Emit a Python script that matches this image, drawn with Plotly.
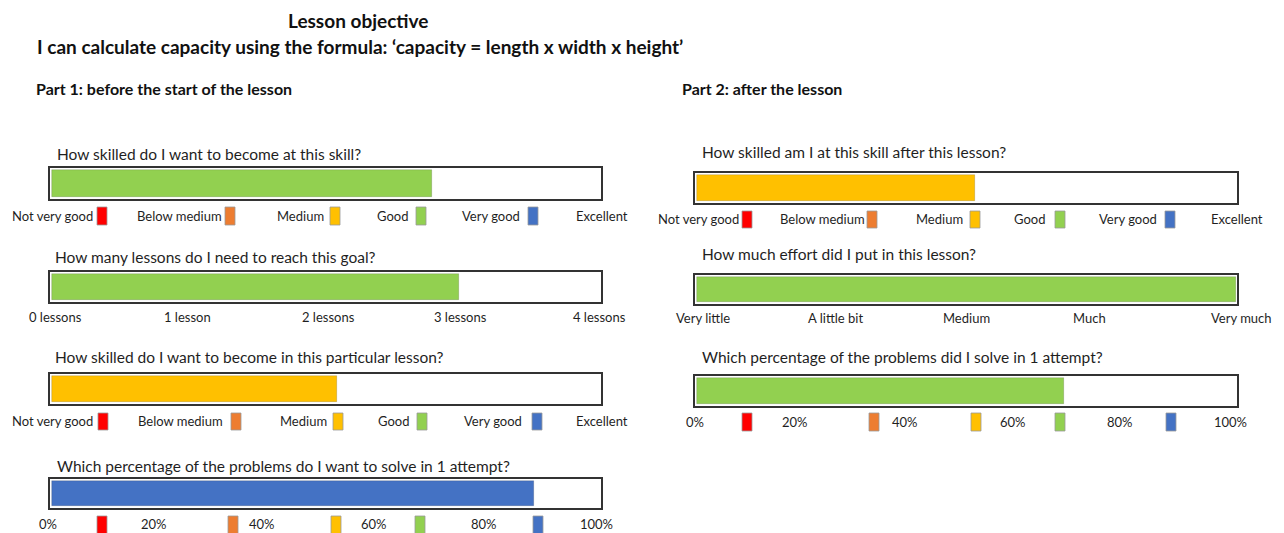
import plotly.graph_objects as go

# ---------------- data ----------------
title_lines = ["Lesson objective",
               "I can calculate capacity using the formula: \u2018capacity = length x width x height\u2019"]
part_titles = ["Part 1: before the start of the lesson", "Part 2: after the lesson"]

questions = [
    "How skilled do I want to become at this skill?",
    "How many lessons do I need to reach this goal?",
    "How skilled do I want to become in this particular lesson?",
    "Which percentage of the problems do I want to solve in 1 attempt?",
    "How skilled am I at this skill after this lesson?",
    "How much effort did I put in this lesson?",
    "Which percentage of the problems did I solve in 1 attempt?",
]
skill_labels = ["Not very good", "Below medium", "Medium", "Good", "Very good", "Excellent"]
lesson_labels = ["0 lessons", "1 lesson", "2 lessons", "3 lessons", "4 lessons"]
effort_labels = ["Very little", "A little bit", "Medium", "Much", "Very much"]
percent_labels = ["0%", "20%", "40%", "60%", "80%", "100%"]

# answers, in each scale's own units
answer_values = [3.47, 2.97, 2.6, 88, 2.58, 4.0, 68]
scale_max = [5, 4, 5, 100, 5, 4, 100]
bar_colors = ["#92D050", "#92D050", "#FFC000", "#4472C4", "#FFC000", "#92D050", "#92D050"]
level_colors = ["#FF0000", "#ED7D31", "#FFC000", "#92D050", "#4472C4"]

# ---------------- layout (pixels in the 1284x533 page) ----------------
OFF = 8                      # default page body margin
W, H = 1284 - OFF, 533 - OFF
def px(x): return (x - OFF) / W
def py(y): return 1 - (y - OFF) / H

FONT = "Lato, 'Liberation Sans', sans-serif"
TXT = "#1f1f1f"

boxes = [
    (50, 601, 168, 199),
    (50, 601, 272, 302),
    (50, 601, 374, 404),
    (50, 601, 479, 508),
    (695, 1237, 173, 203),
    (695, 1237, 275, 304),
    (695, 1237, 376, 406),
]
question_pos = [(55, 154), (53, 257), (53, 357), (55, 466), (700, 152), (700, 254), (700, 357)]

label_sets = [
    (skill_labels, [10, 135, 275, 375, 460, 574], 216, [97, 225, 330, 416, 528], (207, 225)),
    (lesson_labels, [27, 162, 300, 432, 571], 317, None, None),
    (skill_labels, [10, 136, 278, 376, 462, 574], 421, [98, 231, 333, 417, 532], (413, 430)),
    (percent_labels, [37, 139, 247, 359, 469, 578], 524, [97, 228, 331, 415, 533], (516, 534)),
    (skill_labels, [656, 778, 914, 1012, 1097, 1209], 219, [742, 867, 970, 1055, 1165], (211, 228)),
    (effort_labels, [674, 806, 941, 1071, 1209], 318, None, None),
    (percent_labels, [684, 780, 890, 998, 1105, 1212], 422, [742, 869, 971, 1055, 1166], (413, 431)),
]

fig = go.Figure()
layout = dict(
    width=W, height=H,
    margin=dict(l=0, r=0, t=0, b=0),
    paper_bgcolor="white", plot_bgcolor="white",
    showlegend=False, bargap=0,
    font=dict(family=FONT, color=TXT),
)

annotations = []
shapes = []

for i, (x0, x1, y0, y1) in enumerate(boxes):
    n = i + 1
    xa = "x" if n == 1 else f"x{n}"
    ya = "y" if n == 1 else f"y{n}"
    pad = scale_max[i] * 2.5 / (x1 - x0)
    fig.add_trace(go.Bar(
        x=[answer_values[i]], y=[0], base=0, orientation="h", width=0.84,
        marker=dict(color=bar_colors[i], line=dict(width=0.6, color="rgba(0,0,0,0.25)")),
        xaxis=xa, yaxis=ya, hoverinfo="skip",
    ))
    layout["xaxis" if n == 1 else f"xaxis{n}"] = dict(
        domain=[px(x0), px(x1)], range=[-pad, scale_max[i] + pad * 0.4],
        anchor=ya, showline=True, mirror=True, linewidth=2, linecolor="#333333",
        showticklabels=False, ticks="", showgrid=False, zeroline=False, fixedrange=True,
    )
    layout["yaxis" if n == 1 else f"yaxis{n}"] = dict(
        domain=[py(y1), py(y0)], range=[-0.5, 0.5],
        anchor=xa, showline=True, mirror=True, linewidth=2, linecolor="#333333",
        showticklabels=False, ticks="", showgrid=False, zeroline=False, fixedrange=True,
    )
    qx, qy = question_pos[i]
    annotations.append(dict(text=questions[i], x=px(qx), y=py(qy), xref="paper", yref="paper",
                            xanchor="left", yanchor="middle", showarrow=False,
                            font=dict(size=15.5, family=FONT, color=TXT)))
    labels, lx, ly, sx, sy = label_sets[i]
    for j, lab in enumerate(labels):
        annotations.append(dict(text=lab, x=px(lx[j]), y=py(ly), xref="paper", yref="paper",
                                xanchor="left", yanchor="middle", showarrow=False,
                                font=dict(size=13, family=FONT, color=TXT)))
    if sx is not None:
        for j, sxl in enumerate(sx):
            shapes.append(dict(type="rect", xref="paper", yref="paper",
                               x0=px(sxl), x1=px(sxl + 10), y0=py(sy[1]), y1=py(sy[0]),
                               fillcolor=level_colors[j], line=dict(width=0.8, color="#9a9a9a")))

annotations.append(dict(text=f"<b>{title_lines[0]}</b>", x=px(358), y=py(20), xref="paper", yref="paper",
                        xanchor="center", yanchor="middle", showarrow=False,
                        font=dict(size=19, family=FONT, color="#111")))
annotations.append(dict(text=f"<b>{title_lines[1]}</b>", x=px(35), y=py(46), xref="paper", yref="paper",
                        xanchor="left", yanchor="middle", showarrow=False,
                        font=dict(size=19, family=FONT, color="#111")))
annotations.append(dict(text=f"<b>{part_titles[0]}</b>", x=px(34), y=py(89), xref="paper", yref="paper",
                        xanchor="left", yanchor="middle", showarrow=False,
                        font=dict(size=16, family=FONT, color="#111")))
annotations.append(dict(text=f"<b>{part_titles[1]}</b>", x=px(680), y=py(89), xref="paper", yref="paper",
                        xanchor="left", yanchor="middle", showarrow=False,
                        font=dict(size=16, family=FONT, color="#111")))

layout["annotations"] = annotations
layout["shapes"] = shapes
fig.update_layout(**layout)
fig.write_html("out.html", config={"displayModeBar": False})
